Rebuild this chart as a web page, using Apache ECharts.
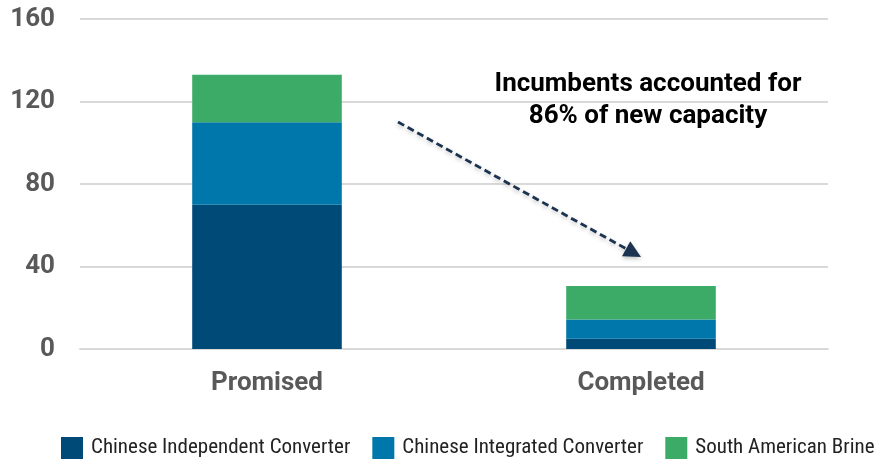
<!DOCTYPE html>
<html><head><meta charset="utf-8">
<script src="https://cdn.jsdelivr.net/npm/echarts@6/dist/echarts.min.js"></script>
<style>html,body{margin:0;padding:0;background:#fff}#c{width:876px;height:460px}</style>
</head><body><div id="c"></div>
<script>
const categories = ['Promised', 'Completed'];
const independent = [70, 5];
const integrated = [40, 9.3];
const brine = [23, 16.3];
const yTicks = [0, 40, 80, 120, 160];
const seriesNames = ['Chinese Independent Converter', 'Chinese Integrated Converter', 'South American Brine'];
const colors = ['#004a77', '#0077ab', '#3cab67'];

const chart = echarts.init(document.getElementById('c'), null, {renderer: 'canvas'});

// arrow geometry (annotation)
const ax0 = 398, ay0 = 122, ax1 = 641, ay1 = 257;
const dx = ax1 - ax0, dy = ay1 - ay0, L = Math.hypot(dx, dy);
const ux = dx / L, uy = dy / L, px = -uy, py = ux;
const headLen = 17, headW = 8.5;
const bx = ax1 - ux * headLen, by = ay1 - uy * headLen;

const option = {
  animation: false,
  color: colors,
  grid: {left: 80, right: 48, top: 19, bottom: 111, containLabel: false},
  legend: {
    top: 437, left: 61, padding: 0,
    itemWidth: 22, itemHeight: 22, itemGap: 22,
    icon: 'rect',
    textStyle: {fontFamily: "'Liberation Sans Narrow', 'Roboto Condensed', Roboto", fontSize: 21, color: '#222', padding: [0, 0, 0, 3]},
    data: seriesNames
  },
  xAxis: {
    type: 'category', data: categories,
    axisLine: {show: true, lineStyle: {color: '#d9d9d9', width: 2}},
    axisTick: {show: false},
    axisLabel: {fontFamily: 'Roboto', fontWeight: 'bold', fontSize: 26, color: '#595959', margin: 21}
  },
  yAxis: {
    type: 'value', min: yTicks[0], max: yTicks[yTicks.length - 1], interval: 40,
    axisLine: {show: false}, axisTick: {show: false},
    splitLine: {lineStyle: {color: '#d9d9d9', width: 2}},
    axisLabel: {fontFamily: 'Roboto', fontWeight: 'bold', fontSize: 26, color: '#595959', margin: 25}
  },
  series: [
    {name: seriesNames[0], type: 'bar', stack: 's', data: independent, barWidth: '40%'},
    {name: seriesNames[1], type: 'bar', stack: 's', data: integrated, barWidth: '40%'},
    {name: seriesNames[2], type: 'bar', stack: 's', data: brine, barWidth: '40%'}
  ],
  graphic: [
    {
      type: 'text', x: 648, y: 68, z: 10,
      style: {
        text: 'Incumbents accounted for\n86% of new capacity',
        fontFamily: 'Roboto', fontWeight: 'bold', fontSize: 26, lineHeight: 32,
        fill: '#000', align: 'center', textAlign: 'center', verticalAlign: 'top'
      }
    },
    {
      type: 'line', z: 10,
      shape: {x1: ax0, y1: ay0, x2: bx, y2: by},
      style: {stroke: '#1b3350', lineWidth: 2.8, lineDash: [7, 4],
        shadowColor: 'rgba(0,0,0,0.25)', shadowBlur: 4, shadowOffsetY: 2}
    },
    {
      type: 'polygon', z: 10,
      shape: {points: [[ax1, ay1], [bx + px * headW, by + py * headW], [bx - px * headW, by - py * headW]]},
      style: {fill: '#1b3350', shadowColor: 'rgba(0,0,0,0.25)', shadowBlur: 4, shadowOffsetY: 2}
    }
  ]
};
chart.setOption(option);
</script>
</body></html>
